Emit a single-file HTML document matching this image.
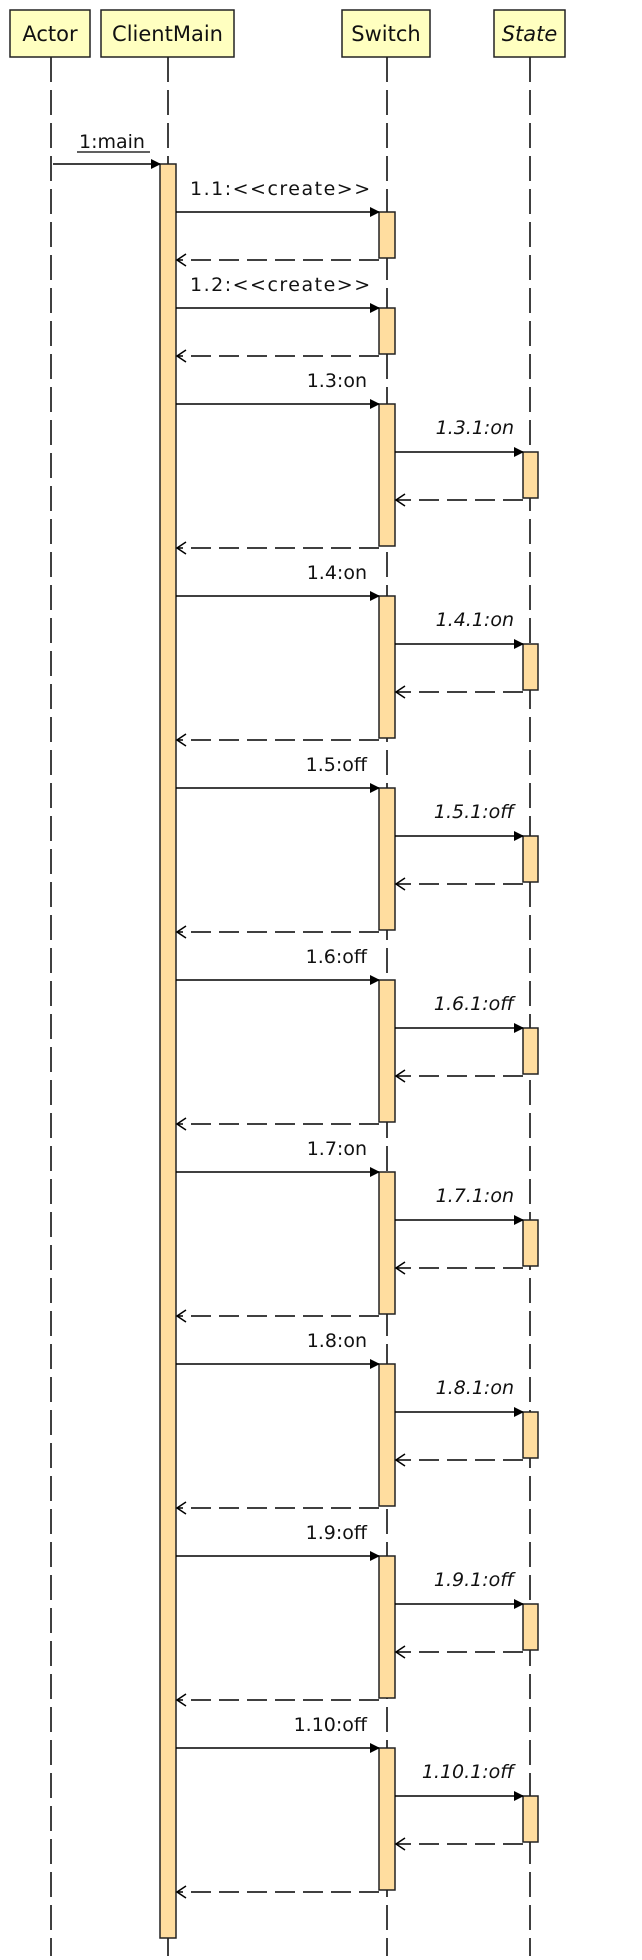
<!DOCTYPE html>
<html><head><meta charset="utf-8"><style>
html,body{margin:0;padding:0;background:#fff;width:642px;height:1960px;overflow:hidden}
svg{display:block}
text{font-family:"DejaVu Sans","Liberation Sans",sans-serif;fill:#111}
</style></head><body>
<svg id="diagram" width="642" height="1960" viewBox="0 0 642 1960" xmlns="http://www.w3.org/2000/svg">
<defs>
<marker id="solidHead" markerWidth="10" markerHeight="10" refX="9" refY="5" orient="auto" markerUnits="userSpaceOnUse"><path d="M0,0 L10,5 L0,10 z" fill="#000"/></marker>
<marker id="openHead" markerWidth="12" markerHeight="14" refX="10" refY="7" orient="auto" markerUnits="userSpaceOnUse"><path d="M1,1 L10,7 L1,13" fill="none" stroke="#000" stroke-width="1.5"/></marker>
</defs>
<g id="lifelines"></g>
<g id="heads"></g>
<g id="msgs"></g>
</svg>
<script>
const participants = ["Actor","ClientMain","Switch","State"];
const callLabels = ["1.3:on","1.4:on","1.5:off","1.6:off","1.7:on","1.8:on","1.9:off","1.10:off"];
const subLabels = ["1.3.1:on","1.4.1:on","1.5.1:off","1.6.1:off","1.7.1:on","1.8.1:on","1.9.1:off","1.10.1:off"];
const createLabels = ["1.1:<<create>>","1.2:<<create>>"];

const NS="http://www.w3.org/2000/svg";
const boxes=[[10,90],[101,234],[342,430],[494,565]];
const lx=[51,168,387,530];
function el(tag,attrs,parent){const e=document.createElementNS(NS,tag);for(const k in attrs)e.setAttribute(k,attrs[k]);parent.appendChild(e);return e;}
const LL=document.getElementById('lifelines'),H=document.getElementById('heads'),M=document.getElementById('msgs');

participants.forEach((p,i)=>{
  const l=el('line',{x1:lx[i],x2:lx[i],y1:57,y2:1956,stroke:'#000','stroke-width':1.5,'stroke-dasharray':'25 8'},LL);
  
  
  const g=el('g',{},H);
  
  
  el('rect',{x:boxes[i][0],y:10,width:boxes[i][1]-boxes[i][0],height:47,fill:'#ffffc0',stroke:'#222','stroke-width':1.5},g);
  const t=el('text',{x:(boxes[i][0]+boxes[i][1])/2,y:41,'text-anchor':'middle','font-size':21},g);
  if(p==='State')t.setAttribute('font-style','italic');
  t.textContent=p;
});

function act(x1,x2,y1,y2,name){const r=el('rect',{x:x1,y:y1,width:x2-x1,height:y2-y1,fill:'#ffdd9f',stroke:'#222','stroke-width':1.5},M);
  }
function call(x1,x2,y,name){const l=el('line',{x1:x1,x2:x2,y1:y,y2:y,stroke:'#000','stroke-width':1.5,'marker-end':'url(#solidHead)'},M);
  }
function ret(x1,x2,y,name){const l=el('line',{x1:x1,x2:x2,y1:y,y2:y,stroke:'#000','stroke-width':1.5,'stroke-dasharray':'20 8','marker-end':'url(#openHead)'},M);
  }
function label(txt,x,y,anchor,italic,name){const t=el('text',{x:x,y:y,'text-anchor':anchor,'font-size':19},M);
  if(italic)t.setAttribute('font-style','italic');t.textContent=txt;
  return t;}

act(160,176,164,1938,'clientmain-activation');
call(53,160,164,'main-call');
label('1:main',79,148,'start',false,'main-label');
const ul=el('line',{x1:77,x2:150,y1:152,y2:152,stroke:'#000','stroke-width':1.2},M);



createLabels.forEach((lab,i)=>{
  const b=212+i*96;
  act(379,395,b,b+46,'switch-create-activation-'+(i+1));
  call(176,379,b,'create-call-'+(i+1));
  ret(379,177,b+48,'create-return-'+(i+1));
  const t=label(lab,190,b-17,'start',false,'create-label-'+(i+1));
  t.setAttribute('letter-spacing','1.5');
});

callLabels.forEach((lab,i)=>{
  const b=404+i*192;
  act(379,395,b,b+142,'switch-activation-'+(i+1));
  call(176,379,b,'call-'+(i+1));
  label(lab,367,b-17,'end',false,'call-label-'+(i+1));
  act(523,538,b+48,b+94,'state-activation-'+(i+1));
  call(395,523,b+48,'sub-call-'+(i+1));
  label(subLabels[i],514,b+30,'end',true,'sub-call-label-'+(i+1));
  ret(523,396,b+96,'sub-return-'+(i+1));
  ret(379,177,b+144,'return-'+(i+1));
});
</script>
</body></html>
